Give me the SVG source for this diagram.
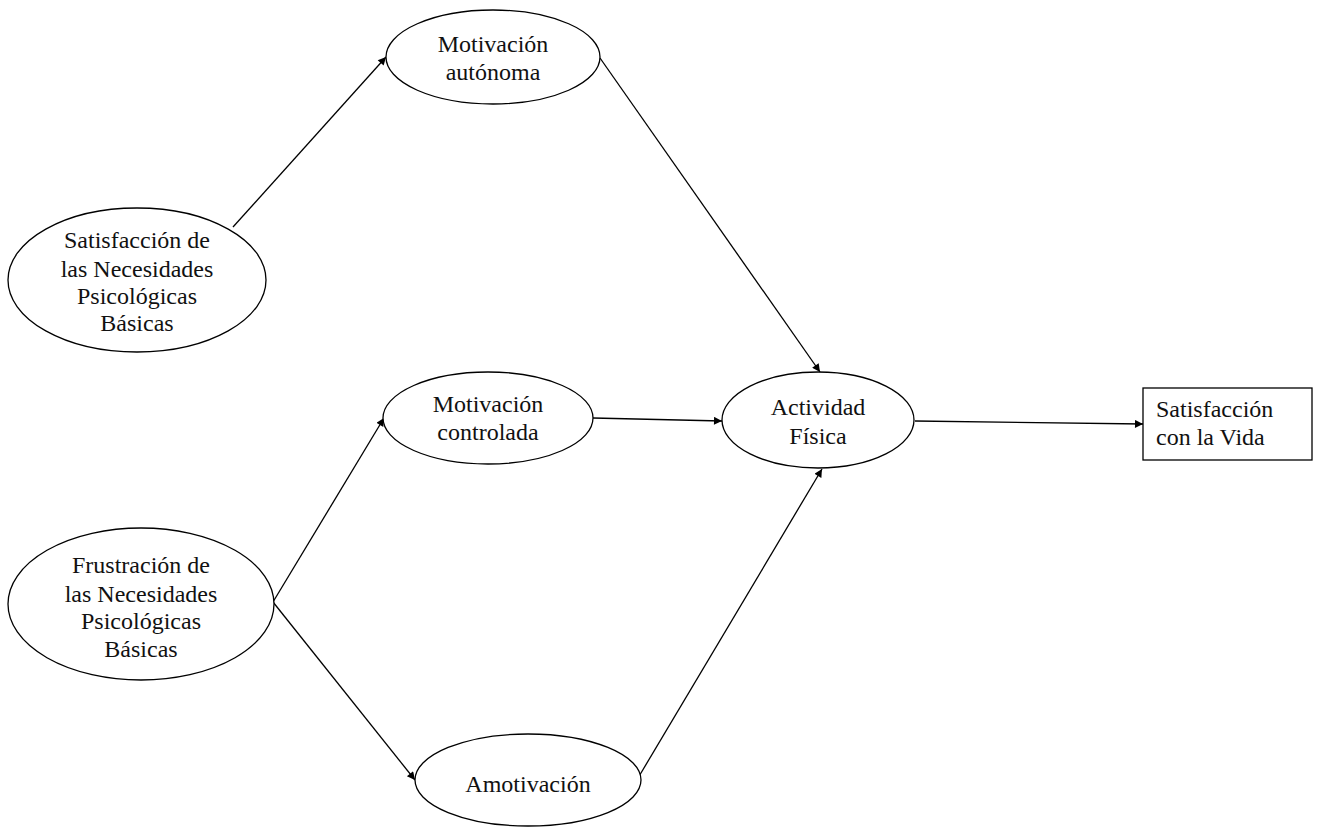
<svg xmlns="http://www.w3.org/2000/svg" width="1319" height="829" viewBox="0 0 1319 829">
  <style>
    .shape { fill: #ffffff; stroke: #000000; stroke-width: 1.3; }
    .label { font-family: "Liberation Serif", "Times New Roman", serif; font-size: 24px; fill: #111111; }
    .mid { text-anchor: middle; }
    .edge { fill: none; stroke: #000000; stroke-width: 1.3; marker-end: url(#arrow); }
  </style>
  <defs>
    <marker id="arrow" viewBox="0 0 10 10" refX="10" refY="5" markerWidth="10" markerHeight="8" markerUnits="userSpaceOnUse" orient="auto">
      <path d="M0,0 L10,5 L0,10 z" fill="#000000"/>
    </marker>
  </defs>
  <rect width="1319" height="829" fill="#ffffff"/>

  <g id="connectors">
    <line class="edge" x1="233" y1="227" x2="386" y2="57"/>
    <line class="edge" x1="273" y1="602" x2="384" y2="418"/>
    <line class="edge" x1="273" y1="602" x2="415" y2="780"/>
    <line class="edge" x1="600" y1="58" x2="820" y2="372"/>
    <line class="edge" x1="593" y1="418" x2="722" y2="421"/>
    <line class="edge" x1="638" y1="778" x2="822" y2="469"/>
    <line class="edge" x1="915" y1="421" x2="1143" y2="424"/>
  </g>

  <g id="node-satisfaccion-npb">
    <ellipse class="shape" cx="137" cy="280" rx="129" ry="72"/>
    <text class="label mid" x="137" y="248">Satisfacción de</text>
    <text class="label mid" x="137" y="277">las Necesidades</text>
    <text class="label mid" x="137" y="304">Psicológicas</text>
    <text class="label mid" x="137" y="331">Básicas</text>
  </g>

  <g id="node-frustracion-npb">
    <ellipse class="shape" cx="141" cy="604" rx="133" ry="76"/>
    <text class="label mid" x="141" y="573">Frustración de</text>
    <text class="label mid" x="141" y="602">las Necesidades</text>
    <text class="label mid" x="141" y="629">Psicológicas</text>
    <text class="label mid" x="141" y="657">Básicas</text>
  </g>

  <g id="node-motivacion-autonoma">
    <ellipse class="shape" cx="493" cy="57" rx="107" ry="47"/>
    <text class="label mid" x="493" y="52">Motivación</text>
    <text class="label mid" x="493" y="80">autónoma</text>
  </g>

  <g id="node-motivacion-controlada">
    <ellipse class="shape" cx="488" cy="418" rx="105" ry="46"/>
    <text class="label mid" x="488" y="412">Motivación</text>
    <text class="label mid" x="488" y="440">controlada</text>
  </g>

  <g id="node-amotivacion">
    <ellipse class="shape" cx="528" cy="780" rx="113" ry="46"/>
    <text class="label mid" x="528" y="792">Amotivación</text>
  </g>

  <g id="node-actividad-fisica">
    <ellipse class="shape" cx="818" cy="420" rx="96" ry="48"/>
    <text class="label mid" x="818" y="415">Actividad</text>
    <text class="label mid" x="818" y="444">Física</text>
  </g>

  <g id="node-satisfaccion-vida">
    <rect class="shape" x="1143" y="388" width="169" height="72"/>
    <text class="label" x="1156" y="417">Satisfacción</text>
    <text class="label" x="1156" y="445">con la Vida</text>
  </g>
</svg>
